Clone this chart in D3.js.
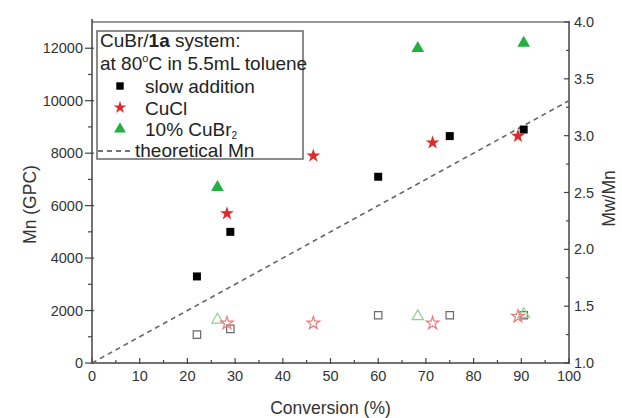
<!DOCTYPE html>
<html>
<head>
<meta charset="utf-8">
<script src="https://cdn.jsdelivr.net/npm/d3@7"></script>
<style>
  body { margin: 0; background: #fff; }
  svg { font-family: "Liberation Sans", Arial, sans-serif; }
</style>
</head>
<body>
<div id="chart"></div>
<script>
// conversion (%) and Mn (GPC), filled markers on left axis
var slowConv = [22, 29, 60, 75, 90.5];
var slowMn = [3300, 5000, 7100, 8650, 8900];
var cuclConv = [28.3, 46.4, 71.4, 89.3];
var cuclMn = [5700, 7900, 8400, 8650];
var cubrConv = [26.3, 68.3, 90.5];
var cubrMn = [6700, 12000, 12200];

// Mw/Mn, open markers on right axis
var slowPdi = [1.25, 1.30, 1.42, 1.42, 1.42];
var cuclPdi = [1.35, 1.35, 1.35, 1.41];
var cubrPdi = [1.38, 1.41, 1.43];

var theoConv = [0, 100];
var theoMn = [0, 10000];

var xTicks = [0, 10, 20, 30, 40, 50, 60, 70, 80, 90, 100];
var yLeftTicks = [0, 2000, 4000, 6000, 8000, 10000, 12000];
var yRightTicks = [1.0, 1.5, 2.0, 2.5, 3.0, 3.5, 4.0];

var W = 622, H = 418;
var m = {left: 92, right: 53, top: 22, bottom: 55};

var svg = d3.select('#chart').append('svg')
  .attr('width', W).attr('height', H);

var x = d3.scaleLinear().domain([0, 100]).range([m.left, W - m.right]);
var yL = d3.scaleLinear().domain([0, 13000]).range([H - m.bottom, m.top]);
var yR = d3.scaleLinear().domain([1, 4]).range([H - m.bottom, m.top]);

var axisCol = '#444';
var textCol = '#333';

// frame top line
svg.append('line')
  .attr('x1', x(0)).attr('x2', x(100))
  .attr('y1', m.top).attr('y2', m.top)
  .attr('stroke', '#777').attr('stroke-width', 1.5);

// bottom axis
var gx = svg.append('g').attr('transform', 'translate(0,' + yL(0) + ')');
gx.append('line').attr('x1', x(0)).attr('x2', x(100))
  .attr('stroke', axisCol).attr('stroke-width', 1.5);
gx.selectAll('.minor').data(d3.range(5, 100, 10)).enter().append('line')
  .attr('x1', x).attr('x2', x).attr('y1', 0).attr('y2', -3)
  .attr('stroke', axisCol).attr('stroke-width', 1.2);
gx.selectAll('.major').data(xTicks).enter().append('line')
  .attr('x1', x).attr('x2', x).attr('y1', 1).attr('y2', -5)
  .attr('stroke', axisCol).attr('stroke-width', 1.2);
gx.selectAll('text').data(xTicks).enter().append('text')
  .attr('x', x).attr('y', 18)
  .attr('text-anchor', 'middle')
  .attr('font-size', 14.5).attr('fill', textCol)
  .text(function(d) { return d; });

// left axis
var gl = svg.append('g').attr('transform', 'translate(' + x(0) + ',0)');
gl.append('line').attr('y1', yL(0) + 1).attr('y2', m.top - 3)
  .attr('stroke', axisCol).attr('stroke-width', 1.5);
gl.selectAll('.minor').data(d3.range(1000, 13000, 2000)).enter().append('line')
  .attr('y1', yL).attr('y2', yL).attr('x1', 0).attr('x2', -4)
  .attr('stroke', axisCol).attr('stroke-width', 1.2);
gl.selectAll('.major').data(yLeftTicks).enter().append('line')
  .attr('y1', yL).attr('y2', yL).attr('x1', 2).attr('x2', -7)
  .attr('stroke', axisCol).attr('stroke-width', 1.2);
gl.selectAll('text').data(yLeftTicks).enter().append('text')
  .attr('x', -9).attr('y', function(d) { return yL(d) + 5; })
  .attr('text-anchor', 'end')
  .attr('font-size', 14.5).attr('fill', textCol)
  .text(function(d) { return d; });

// right axis
var gr = svg.append('g').attr('transform', 'translate(' + x(100) + ',0)');
gr.append('line').attr('y1', yR(1) + 1).attr('y2', m.top - 1)
  .attr('stroke', axisCol).attr('stroke-width', 1.5);
gr.selectAll('.minor').data(d3.range(1.25, 4, 0.5)).enter().append('line')
  .attr('y1', yR).attr('y2', yR).attr('x1', 0).attr('x2', -3)
  .attr('stroke', axisCol).attr('stroke-width', 1.2);
gr.selectAll('.major').data(yRightTicks).enter().append('line')
  .attr('y1', yR).attr('y2', yR).attr('x1', 0).attr('x2', -5)
  .attr('stroke', axisCol).attr('stroke-width', 1.2);
gr.selectAll('text').data(yRightTicks).enter().append('text')
  .attr('x', 5).attr('y', function(d) { return yR(d) + 5; })
  .attr('font-size', 14.5).attr('fill', textCol)
  .text(function(d) { return d.toFixed(1); });

// axis titles
svg.append('text')
  .attr('transform', 'translate(36,' + ((m.top + H - m.bottom) / 2 + 12) + ') rotate(-90)')
  .attr('text-anchor', 'middle').attr('font-size', 17.5).attr('fill', textCol)
  .text('Mn (GPC)');
svg.append('text')
  .attr('transform', 'translate(615,' + ((m.top + H - m.bottom) / 2 + 6) + ') rotate(-90)')
  .attr('text-anchor', 'middle').attr('font-size', 17.5).attr('fill', textCol)
  .text('Mw/Mn');
svg.append('text')
  .attr('x', (x(0) + x(100)) / 2).attr('y', 414)
  .attr('text-anchor', 'middle').attr('font-size', 17.5).attr('fill', textCol)
  .text('Conversion (%)');

// theoretical line
var theo = theoConv.map(function(c, i) { return [c, theoMn[i]]; });
svg.append('path')
  .attr('d', d3.line().x(function(d) { return x(d[0]); }).y(function(d) { return yL(d[1]); })(theo))
  .attr('fill', 'none').attr('stroke', '#666').attr('stroke-width', 1.6)
  .attr('stroke-dasharray', '5,4');

var sq = d3.symbol().type(d3.symbolSquare);
var star = d3.symbol().type(d3.symbolStar);
var tri = d3.symbol().type(d3.symbolTriangle);

function pts(cls, xs, ys, yscale, sym, size, fill, stroke) {
  svg.append('g').selectAll('path').data(xs).enter().append('path')
    .attr('class', cls)
    .attr('transform', function(d, i) { return 'translate(' + x(d) + ',' + yscale(ys[i]) + ')'; })
    .attr('d', sym.size(size)())
    .attr('fill', fill).attr('stroke', stroke).attr('stroke-width', 1.2);
}

// open markers: Mw/Mn
pts('pdi', slowConv, slowPdi, yR, sq, 55, 'none', '#6a6a6a');
pts('pdi', cubrConv, cubrPdi, yR, tri, 55, 'none', '#8fd08f');
pts('pdi', cuclConv, cuclPdi, yR, star, 50, 'none', '#f07878');

// filled markers: Mn
pts('mn', slowConv, slowMn, yL, sq, 64, '#000', 'none');
pts('mn', cuclConv, cuclMn, yL, star, 60, '#e02a2a', 'none');
pts('mn', cubrConv, cubrMn, yL, tri, 70, '#22b040', 'none');

// legend
var fs = 19;
var lg = svg.append('g');
lg.append('rect')
  .attr('x', 97).attr('y', 31).attr('width', 206).attr('height', 128)
  .attr('fill', 'none').attr('stroke', '#666').attr('stroke-width', 1.5);

var t1 = lg.append('text').attr('x', 100).attr('y', 47)
  .attr('font-size', fs).attr('fill', '#222');
t1.append('tspan').text('CuBr/');
t1.append('tspan').attr('font-weight', 'bold').text('1a');
t1.append('tspan').text(' system:');

var t2 = lg.append('text').attr('x', 100).attr('y', 70)
  .attr('font-size', fs).attr('fill', '#222');
t2.append('tspan').text('at 80');
t2.append('tspan').attr('font-size', 11).attr('dy', -8).text('o');
t2.append('tspan').attr('dy', 8).text('C in 5.5mL toluene');

var legItems = [
  {sym: sq, size: 55, fill: '#000', label: 'slow addition'},
  {sym: star, size: 50, fill: '#e02a2a', label: 'CuCl'},
  {sym: tri, size: 60, fill: '#22b040', label: '10% CuBr'}
];
legItems.forEach(function(it, i) {
  var yy = 86 + i * 21.5;
  lg.append('path')
    .attr('transform', 'translate(120,' + yy + ')')
    .attr('d', it.sym.size(it.size)())
    .attr('fill', it.fill);
  var t = lg.append('text').attr('x', 145).attr('y', yy + 7)
    .attr('font-size', fs).attr('fill', '#222').text(it.label);
  if (i === 2) {
    t.append('tspan').attr('font-size', 10).attr('dy', 3).text('2');
  }
});
lg.append('line')
  .attr('x1', 98).attr('x2', 131).attr('y1', 151).attr('y2', 151)
  .attr('stroke', '#444').attr('stroke-width', 1.6).attr('stroke-dasharray', '5,4');
lg.append('text').attr('x', 135).attr('y', 157)
  .attr('font-size', fs).attr('fill', '#222').text('theoretical Mn');
</script>
</body>
</html>
